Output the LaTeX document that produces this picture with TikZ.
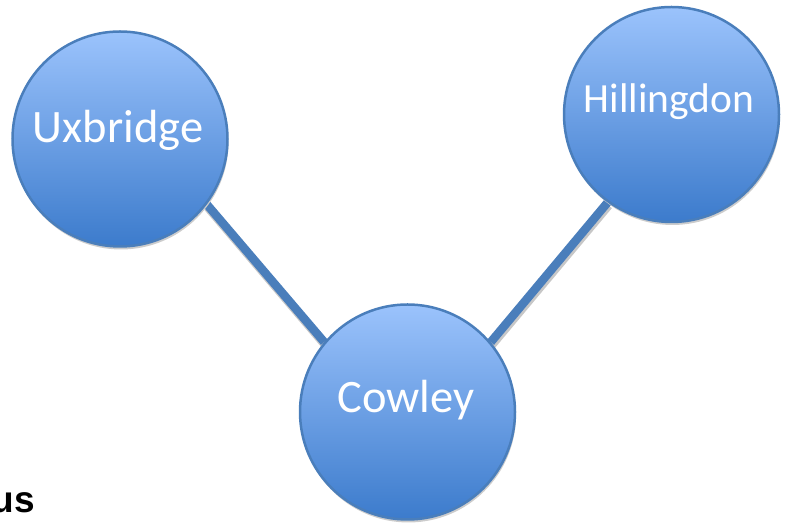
\documentclass[tikz,border=0pt]{standalone}
\usepackage{fontspec}
\setmainfont{Carlito}
\newfontfamily\headfont{Liberation Sans}
\usetikzlibrary{shadows,backgrounds}
\definecolor{townedge}{RGB}{74,126,187}
\definecolor{towntop}{RGB}{155,195,252}
\definecolor{townbottom}{RGB}{60,123,204}
\begin{document}
\begin{tikzpicture}[x=1pt,y=1pt,
    town/.style={circle,minimum size=215pt,inner sep=0pt,draw=townedge,line width=2.5pt,
      top color=towntop,bottom color=townbottom,
      drop shadow={shadow xshift=1pt,shadow yshift=-3pt,opacity=1,fill=black!20}},
    townname/.style={text=white,anchor=base,inner sep=0pt,font=\fontsize{46.5}{50}\selectfont},
    link/.style={townedge,line width=8.5pt},
    linkshadow/.style={black!22,line width=8.5pt}]
  \useasboundingbox (0,0) rectangle (789,526);
  \node[town] (ux) at (120,387) {};
  \node[town] (hill) at (671.5,411.5) {};
  \node[town] (cow) at (407.5,114) {};
  \node[townname] (uxname) at ([shift={(-2pt,-4pt)}]ux.center) {Uxbridge};
  \node[townname,font=\fontsize{41.5}{45}\selectfont] (hillname) at ([shift={(-2.5pt,1.5pt)}]hill.center) {Hillingdon};
  \node[townname] (cowname) at ([shift={(-1.5pt,-1pt)}]cow.center) {Cowley};
  \begin{scope}[on background layer]
    \draw[linkshadow] ([shift={(1pt,-3pt)}]ux.-37) -- ([shift={(1pt,-3pt)}]cow.140);
    \draw[linkshadow] ([shift={(1pt,-3pt)}]hill.234.5) -- ([shift={(1pt,-3pt)}]cow.40.4);
    \draw[link] (ux.-37) -- (cow.140);
    \draw[link] (hill.234.5) -- (cow.40.4);
  \end{scope}
  % cut-off caption at the lower left
  \node[anchor=base east,inner sep=0pt,font=\headfont\bfseries\fontsize{37}{40}\selectfont] (caption) at (35,13) {us};
\end{tikzpicture}
\end{document}
